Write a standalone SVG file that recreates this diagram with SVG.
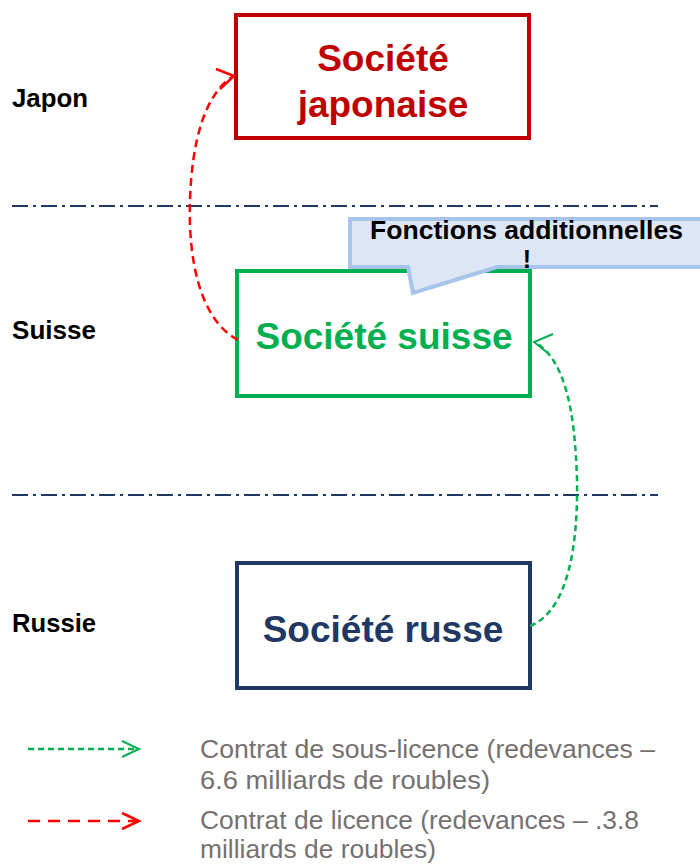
<svg xmlns="http://www.w3.org/2000/svg" width="700" height="865" viewBox="0 0 700 865">
<style>
.lbl{font-family:"Liberation Sans",Arial,sans-serif;font-weight:bold;font-size:25px;fill:#000}
.nt{font-family:"Liberation Sans",Arial,sans-serif;font-weight:bold;font-size:37px;text-anchor:middle}
.co{font-family:"Liberation Sans",Arial,sans-serif;font-weight:bold;font-size:25px;fill:#000}
.sep{stroke:#1F3864;stroke-width:2;stroke-dasharray:16 5 3 5;fill:none}
.leg{font-family:"Liberation Sans",Arial,sans-serif;font-size:25px;fill:#767171}
.red{stroke:#FF0000;stroke-width:2.5;fill:none;stroke-dasharray:8 5}
.redl{stroke:#FF0000;stroke-width:2.5;fill:none;stroke-dasharray:12 8}
.grn{stroke:#00B050;stroke-width:2.5;fill:none;stroke-dasharray:6 4}
.hr{stroke:#FF0000;stroke-width:2.5;fill:none}
.hg{stroke:#00B050;stroke-width:2;fill:none}
</style>
<rect width="700" height="865" fill="#fff"/>
<g id="separators">
<line class="sep" x1="12" y1="206" x2="658" y2="206"/>
<line class="sep" x1="12" y1="495" x2="658" y2="495"/>
</g>
<g id="labels">
<text class="lbl" x="12" y="107" textLength="76" lengthAdjust="spacingAndGlyphs">Japon</text>
<text class="lbl" x="12" y="339" textLength="84" lengthAdjust="spacingAndGlyphs">Suisse</text>
<text class="lbl" x="12" y="632" textLength="84" lengthAdjust="spacingAndGlyphs">Russie</text>
</g>
<g id="japon">
<rect x="236" y="15" width="293" height="123" fill="#fff" stroke="#C00000" stroke-width="4"/>
<text class="nt" x="383" y="71" fill="#C00000">Société</text>
<text class="nt" x="383" y="117" fill="#C00000">japonaise</text>
</g>
<g id="suisse">
<rect x="237" y="271" width="293" height="125" fill="#fff" stroke="#00B050" stroke-width="4"/>
<text class="nt" x="384" y="349" fill="#00B050">Société suisse</text>
</g>
<g id="russe">
<rect x="237" y="563" width="293" height="125" fill="#fff" stroke="#1F3864" stroke-width="4"/>
<text class="nt" x="383" y="642" fill="#1F3864">Société russe</text>
</g>
<g id="callout">
<path d="M350,219 H702 V267 H497 L413,293 L408,267 H350 Z" fill="#DCE6F5" stroke="#A9C4EB" stroke-width="4"/>
<text class="co" x="370" y="239" textLength="313" lengthAdjust="spacingAndGlyphs">Fonctions additionnelles</text>
<text class="co" x="527" y="268" text-anchor="middle">!</text>
</g>
<g id="connectors">
<path class="red" d="M238,340 C200,320 188,260 190,200 C192,140 205,95 232,77"/>
<path class="hr" d="M216,69 L234,76 L220,89"/>
<path class="grn" d="M530,626 C570,610 578,540 577,480 C575,410 565,360 535,342"/>
<path class="hg" d="M553,334 L534,342 L549,354"/>
</g>
<g id="legend">
<line class="grn" x1="28" y1="749" x2="136" y2="749"/>
<path class="hg" d="M122,741 L139,749 L122,757"/>
<line class="redl" x1="28" y1="821" x2="136" y2="821"/>
<path class="hr" d="M122,813 L139,821 L122,829"/>
<text class="leg" x="200" y="758" textLength="455" lengthAdjust="spacingAndGlyphs">Contrat de sous-licence (redevances –</text>
<text class="leg" x="200" y="789" textLength="290" lengthAdjust="spacingAndGlyphs">6.6 milliards de roubles)</text>
<text class="leg" x="200" y="829" textLength="439" lengthAdjust="spacingAndGlyphs">Contrat de licence (redevances – .3.8</text>
<text class="leg" x="200" y="858" textLength="236" lengthAdjust="spacingAndGlyphs">milliards de roubles)</text>
</g>
</svg>
